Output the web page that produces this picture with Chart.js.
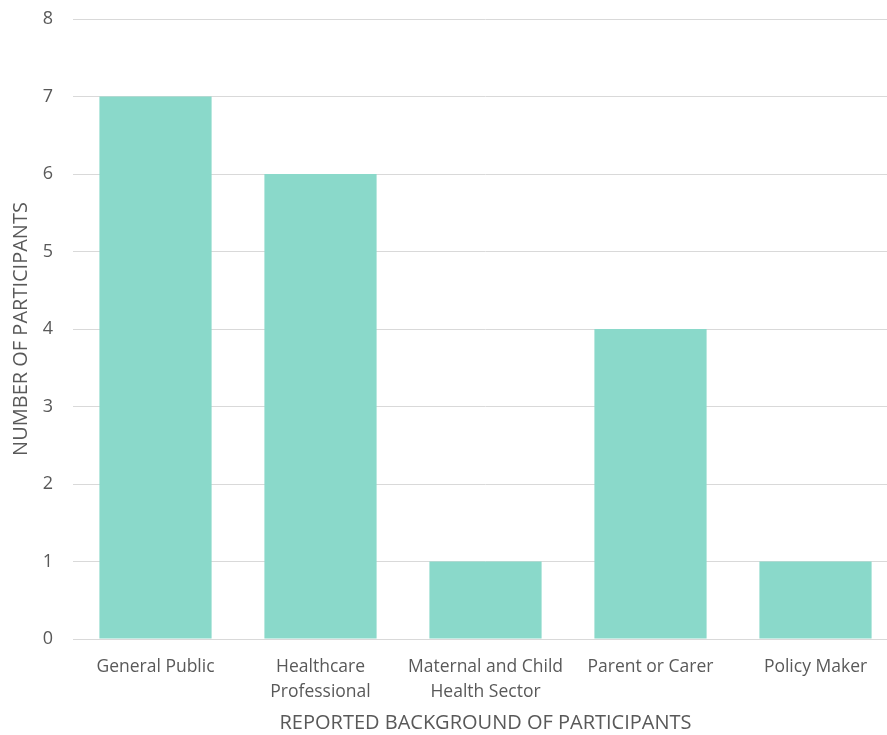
<!DOCTYPE html>
<html><head><meta charset="utf-8">
<script src="https://cdn.jsdelivr.net/npm/chart.js@4/dist/chart.umd.min.js"></script>
<style>html,body{margin:0;padding:0;background:#fff;overflow:hidden}#w{width:898px;height:735px}</style>
</head><body><div id="w"><canvas id="c"></canvas></div>
<script>
const categories = [["General Public"], ["Healthcare", "Professional"], ["Maternal and Child", "Health Sector"], ["Parent or Carer"], ["Policy Maker"]];
const participants = [7, 6, 1, 4, 1];
const xTitle = "REPORTED BACKGROUND OF PARTICIPANTS";
const yTitle = "NUMBER OF PARTICIPANTS";
const FONT = "'Open Sans', Lato, sans-serif";
const TXT = "#595959";
new Chart(document.getElementById('c'), {
  type: 'bar',
  data: { labels: categories, datasets: [{ data: participants, backgroundColor: '#8AD9CA', barPercentage: 0.68, categoryPercentage: 1 }] },
  options: {
    responsive: true, maintainAspectRatio: false, animation: false,
    layout: { padding: { top: 19, right: 0, left: 9, bottom: 0 } },
    plugins: { legend: { display: false }, tooltip: { enabled: false } },
    scales: {
      x: {
        grid: { display: false, drawTicks: false },
        border: { color: '#d9d9d9', width: 1 },
        ticks: { color: TXT, font: { family: FONT, size: 17.5, lineHeight: 1.4 }, padding: 16, maxRotation: 0, autoSkip: false },
        title: { display: true, text: xTitle, color: TXT, font: { family: FONT, size: 20 }, padding: { top: 12, bottom: 0 } },
        afterFit: s => { s.height = 96; }
      },
      y: {
        min: 0, max: 8,
        grid: { color: '#d9d9d9', drawTicks: false },
        border: { display: false },
        ticks: { stepSize: 1, color: TXT, font: { family: FONT, size: 18 }, padding: 20 },
        title: { display: true, text: yTitle, color: TXT, font: { family: FONT, size: 20 }, padding: { top: 0, bottom: 4 } },
        afterFit: s => { s.width = 64; s.paddingTop = 10; s.paddingBottom = 10; }
      }
    }
  }
});
</script></body></html>
